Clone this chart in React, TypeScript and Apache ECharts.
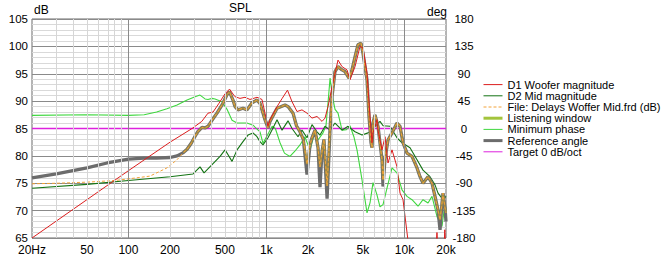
import React, { useEffect, useRef } from "react";
import * as echarts from "echarts";

// ---- axis ticks ----
const tickFreqs = [20, 50, 100, 200, 500, 1000, 2000, 5000, 10000, 20000];
const tickLabels = ["20Hz", "50", "100", "200", "500", "1k", "2k", "5k", "10k", "20k"];
const minorGridFreqs = [30, 40, 50, 60, 70, 80, 90, 200, 300, 400, 500, 600, 700, 800, 900,
  2000, 3000, 4000, 5000, 6000, 7000, 8000, 9000];
const majorGridFreqs = [100, 1000, 10000];

const legendNames = [
  "D1 Woofer magnitude",
  "D2 Mid magnitude",
  "File: Delays Woffer Mid.frd (dB)",
  "Listening window",
  "Minimum phase",
  "Reference angle",
  "Target 0 dB/oct",
];

// ---- D1 Woofer magnitude ----
const woofFreq = [20, 50, 100, 200, 289, 340, 377, 410, 450, 500, 540, 572, 592, 643, 699, 760, 854, 928, 976, 1026,
  1061, 1193, 1300, 1420, 1532, 1665, 1809, 1967, 2138, 2324, 2527, 2657, 2793, 2985, 3300, 3528, 3835, 4033, 4383, 4764,
  5009, 5354, 5628, 5819, 5917, 6325, 6431, 6876, 7228, 7600, 8125, 8831, 9284, 9762, 10436, 10800, 12000, 15000, 16800, 17200,
  17600, 19300, 19600, 20000];
const woofDb = [65, 72, 77.3, 82.5, 85, 86.3, 87.8, 88, 89.5, 91.3, 92.2, 91.3, 90.8, 90.5, 90.7, 90.3, 90.7, 90.3, 87.8, 85.4,
  86.6, 89, 90.5, 92, 89.9, 88.1, 88.4, 87.8, 86.9, 87.2, 86.3, 86.9, 89, 92.6, 97.5, 96.3, 95.7, 93.9, 96.3, 100,
  99.7, 95.1, 87.2, 82.4, 84.2, 86.6, 84.7, 81.1, 83.5, 78.7, 81.1, 78, 73.2, 72, 66, 63, 61, 60, 62, 66,
  62, 62, 66.5, 62];

// ---- D2 Mid magnitude ----
const midFreq = [20, 50, 100, 200, 294, 330, 353, 410, 461, 501, 527, 563, 612, 676, 735, 799, 854, 898, 944, 1026,
  1116, 1193, 1297, 1433, 1532, 1693, 1809, 1967, 2138, 2324, 2444, 2657, 2887, 3138, 3528, 3900, 4383, 4926, 5444, 5917,
  6118, 6650, 7000, 7858, 8831, 9600, 10971, 12333, 13630, 15318, 16650, 17505, 19028, 20000];
const midDb = [74.1, 74.8, 75.5, 76.2, 76.7, 78, 76.9, 78.6, 79.9, 81.1, 80.2, 79, 81.1, 82.6, 83.8, 84.2, 83.5, 82.6, 82, 83.3,
  85.1, 86.6, 84.7, 86.4, 85, 83.5, 84.7, 83.3, 85.7, 84.4, 83.8, 85.4, 84.7, 86, 84.7, 85.4, 84.4, 83.8, 84.2, 84.7,
  85.4, 86.3, 85.5, 85.4, 83.3, 82.4, 81.5, 79.3, 77.4, 76.2, 74.7, 73.2, 72, 72.6];

// ---- Minimum phase ----
const minFreq = [20, 50, 100, 130, 160, 190, 225, 266, 304, 330, 359, 377, 403, 424, 476, 518, 563, 612, 723, 799,
  898, 944, 1026, 1100, 1160, 1250, 1350, 1480, 1600, 1750, 1900, 2068, 2250, 2364, 2570, 2700, 2800, 2890, 3000, 3140,
  3300, 3528, 3800, 4033, 4300, 4531, 4926, 5354, 5628, 5917, 6300, 6650, 6992, 7474, 8125, 8831, 9600, 10436, 11343, 12540,
  13630, 14815, 15838, 17215, 18714, 19670, 20000];
const minDb = [87.4, 87.5, 87.4, 87.5, 88, 88.6, 89.3, 90.2, 90.8, 91.1, 90.4, 90.3, 90.5, 90.4, 89.9, 88.5, 86.5, 86, 86, 85.6,
  84.4, 82.3, 84, 85.4, 85, 82.5, 80.5, 79.9, 80.8, 82, 83.5, 81, 84.5, 82.9, 84.2, 85.5, 90, 94.2, 91, 88.5,
  87.8, 84.7, 84.8, 85.5, 83.5, 81.1, 75.6, 69.6, 71.4, 75.1, 73, 70.7, 71.1, 74.1, 77.8, 76.9, 73.8, 72.6, 72, 70.8,
  72, 71.4, 72.6, 68.9, 67.1, 71.4, 70];

// ---- Listening window (from 250 Hz) ----
const lwFreq = [250, 266, 285, 304, 320, 341, 359, 377, 403, 438, 484, 518, 540, 572, 592, 622, 676, 723, 786, 854,
  898, 976, 1026, 1061, 1193, 1363, 1433, 1558, 1650, 1750, 1850, 1967, 2068, 2138, 2248, 2364, 2444, 2527, 2610, 2750,
  2887, 2985, 3138, 3300, 3528, 3709, 3966, 4169, 4383, 4607, 4844, 5009, 5354, 5535, 5723, 5820, 5917, 6118, 6431, 6876,
  6992, 7228, 7600, 8125, 8831, 9284, 9762, 10436, 11343, 12333, 12965, 13630, 14815, 15838, 16650, 17505, 18100, 18714, 19028, 19670,
  20000];
const lwDb = [80.6, 81.2, 82.3, 83.6, 84.5, 85.2, 85.1, 85.4, 86.5, 87.8, 89.6, 91.2, 91.7, 90.2, 89, 88.4, 88.7, 88.4, 89.7, 90.2,
  89.6, 86.6, 85.1, 86.3, 88.7, 89.3, 89, 87.8, 85.5, 84.4, 83, 78.5, 82, 83.3, 84.7, 81.5, 78, 80.8, 83, 74.5,
  84.7, 90.8, 95.4, 96.3, 95.7, 95.4, 94.2, 95.7, 98.1, 100.3, 100.6, 98.7, 93.9, 87.2, 82.4, 81.5, 86, 87.5, 85.4, 79.3,
  75.6, 79.5, 82.9, 84.2, 86, 85.4, 82.4, 80.5, 79.9, 77.8, 76.2, 75, 76.2, 75, 72.6, 70.1, 68.3, 71.4, 73.2, 70.5,
  69.6];

// ---- Reference angle: low end + deeper dips than listening window ----
const refLowFreq = [20, 30, 50, 70, 100, 130, 160, 200, 225];
const refLowDb = [76, 76.7, 77.8, 78.7, 79.4, 79.6, 79.6, 79.7, 80];
const refDipFreq = [1967, 2444, 2750, 6992, 18100, 20000];
const refDipDb = [76.6, 74.3, 72.2, 74.4, 66.5, 68];

// ---- File: Delays Woffer Mid.frd, low end (joins listening window above) ----
const fileLowFreq = [20, 30, 50, 80, 100, 143, 190, 225];
const fileLowDb = [74.9, 75, 75.2, 75.5, 75.8, 76.3, 77.8, 79.3];

// ---- Target ----
const targetFreq = [20, 20000];
const targetDb = [85, 85];

const LMIN = Math.log10(20);
const LMAX = Math.log10(20000);
const FONT = "'Liberation Sans', Arial, sans-serif";

const pts = (f: number[], d: number[]) => f.map((x, i) => [Math.log10(x), d[i]]);

const refHighDb = lwDb.map((v, i) => {
  const k = refDipFreq.indexOf(lwFreq[i]);
  return k >= 0 ? refDipDb[k] : v;
});

const COLORS = {
  woof: "#dc1e1e",
  mid: "#137313",
  file: "#f2a238",
  lw: "#a8903e",
  lwLegend: "#a3c43c",
  min: "#3fd73f",
  ref: "#6c6c6c",
  target: "#dd22dd",
};

function labelFor(v: number) {
  let best = 0;
  let bd = Infinity;
  tickFreqs.forEach((f, i) => {
    const d = Math.abs(Math.log10(f) - v);
    if (d < bd) { bd = d; best = i; }
  });
  return tickLabels[best];
}

const HIDE = { color: "rgba(0,0,0,0)", borderWidth: 0, opacity: 0 };

export default function App() {
  const ref = useRef<HTMLDivElement>(null);
  useEffect(() => {
    document.body.style.margin = "0";
    const chart = echarts.init(ref.current!, null, { renderer: "svg" });
    const line = (name: string, data: number[][], color: string, width: number, extra: any = {}) => ({
      type: "line",
      name,
      data,
      symbol: "none",
      showSymbol: false,
      clip: true,
      lineStyle: { color, width, ...(extra.lineStyle || {}) },
      itemStyle: { color },
      emphasis: { disabled: true },
      silent: true,
    });
    const gridLines = [
      ...minorGridFreqs.map((f) => ({ xAxis: Math.log10(f), lineStyle: { color: "#d6d6d6", width: 1, type: "solid" } })),
      ...majorGridFreqs.map((f) => ({ xAxis: Math.log10(f), lineStyle: { color: "#8a8a8a", width: 1, type: "solid" } })),
    ];
    const option: any = {
      animation: false,
      backgroundColor: "#ffffff",
      textStyle: { fontFamily: FONT },
      grid: { left: 32, top: 19, width: 414, height: 219, show: true, borderColor: "#6a6a6a", borderWidth: 1 },
      xAxis: {
        type: "value",
        min: LMIN,
        max: LMAX,
        axisLine: { show: false },
        axisTick: { show: false },
        splitLine: { show: false },
        axisLabel: {
          customValues: tickFreqs.map((f) => Math.log10(f)),
          formatter: (v: number) => labelFor(v),
          color: "#000",
          fontSize: 12,
          lineHeight: 12,
          fontFamily: FONT,
          margin: 6,
          hideOverlap: false,
        },
      },
      yAxis: [
        {
          type: "value",
          min: 65,
          max: 105,
          interval: 5,
          position: "left",
          axisLine: { show: false },
          axisTick: { show: false },
          axisLabel: { color: "#000", fontSize: 11.5, lineHeight: 10, fontFamily: FONT, margin: 4 },
          splitLine: { show: true, lineStyle: { color: "#8a8a8a", width: 1 } },
          minorTick: { show: false, splitNumber: 5 },
          minorSplitLine: { show: true, lineStyle: { color: "#d9d9d9", width: 1 } },
        },
        {
          type: "value",
          min: -180,
          max: 180,
          interval: 45,
          position: "right",
          axisLine: { show: false },
          axisTick: { show: false },
          splitLine: { show: false },
          axisLabel: { color: "#000", fontSize: 11.5, lineHeight: 10, fontFamily: FONT, margin: 18, align: "center" },
        },
      ],
      legend: {
        orient: "vertical",
        left: 482,
        top: 79,
        itemWidth: 19,
        itemHeight: 14,
        itemGap: 0,
        padding: 0,
        selectedMode: false,
        itemStyle: HIDE,
        textStyle: { fontSize: 11, color: "#000", fontFamily: FONT },
        data: [
          { name: legendNames[0], itemStyle: HIDE, lineStyle: { color: COLORS.woof, width: 1 } },
          { name: legendNames[1], itemStyle: HIDE, lineStyle: { color: COLORS.mid, width: 1 } },
          { name: legendNames[2], itemStyle: HIDE, lineStyle: { color: COLORS.file, width: 1, type: [3, 2] } },
          { name: legendNames[3], itemStyle: HIDE, lineStyle: { color: COLORS.lwLegend, width: 3, opacity: 1 } },
          { name: legendNames[4], itemStyle: HIDE, lineStyle: { color: COLORS.min, width: 1 } },
          { name: legendNames[5], itemStyle: HIDE, lineStyle: { color: COLORS.ref, width: 3 } },
          { name: legendNames[6], itemStyle: HIDE, lineStyle: { color: COLORS.target, width: 1 } },
        ],
      },
      graphic: [
        { type: "text", left: 229, top: 2, style: { text: "SPL", font: `12px ${FONT}`, fill: "#000" } },
        { type: "text", left: 34, top: 4, style: { text: "dB", font: `12px ${FONT}`, fill: "#000" } },
        { type: "text", left: 427, top: 6, style: { text: "deg", font: `12px ${FONT}`, fill: "#000" } },
      ],
      series: [
        {
          type: "line",
          name: "grid",
          data: [],
          silent: true,
          markLine: { symbol: ["none", "none"], silent: true, label: { show: false }, data: gridLines, animation: false },
        },
        line(legendNames[6], pts(targetFreq, targetDb), COLORS.target, 1.3),
        line(legendNames[4], pts(minFreq, minDb), COLORS.min, 1.1),
        line(legendNames[1], pts(midFreq, midDb), COLORS.mid, 1.1),
        line(legendNames[5], pts(refLowFreq.concat(lwFreq), refLowDb.concat(refHighDb)), COLORS.ref, 3.3),
        line(legendNames[3], pts(lwFreq, lwDb), COLORS.lw, 2, { lineStyle: { opacity: 0.85 } }),
        line(legendNames[2], pts(fileLowFreq.concat(lwFreq), fileLowDb.concat(lwDb)), COLORS.file, 1, { lineStyle: { type: [3, 2] } }),
        line(legendNames[0], pts(woofFreq, woofDb), COLORS.woof, 1),
      ],
    };
    chart.setOption(option);
    return () => chart.dispose();
  }, []);
  return <div ref={ref} style={{ width: 669, height: 257 }} />;
}
